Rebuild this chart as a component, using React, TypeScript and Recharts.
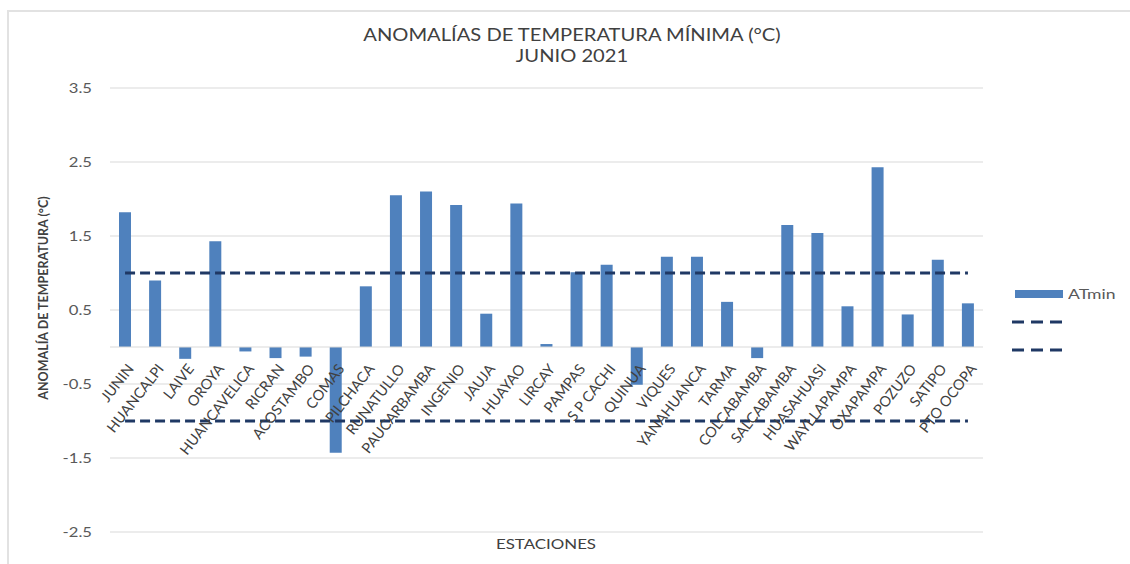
import React from "react";
import {
  ComposedChart,
  Bar,
  XAxis,
  YAxis,
  CartesianGrid,
  ReferenceLine,
  LabelList,
} from "recharts";

const estaciones = [
  "JUNIN", "HUANCALPI", "LAIVE", "OROYA", "HUANCAVELICA", "RICRAN", "ACOSTAMBO",
  "COMAS", "PILCHACA", "RUNATULLO", "PAUCARBAMBA", "INGENIO", "JAUJA", "HUAYAO",
  "LIRCAY", "PAMPAS", "S P CACHI", "QUINUA", "VIQUES", "YANAHUANCA", "TARMA",
  "COLCABAMBA", "SALCABAMBA", "HUASAHUASI", "WAYLLAPAMPA", "OXAPAMPA", "POZUZO",
  "SATIPO", "PTO OCOPA",
];

const atmin = [
  1.82, 0.9, -0.16, 1.43, -0.06, -0.15, -0.13, -1.43, 0.82, 2.05, 2.1, 1.92, 0.45,
  1.94, 0.04, 1.01, 1.11, -0.51, 1.22, 1.22, 0.61, -0.15, 1.65, 1.54, 0.55, 2.43,
  0.44, 1.18, 0.59,
];

const yTicks = [-2.5, -1.5, -0.5, 0.5, 1.5, 2.5, 3.5];
const yDomain = [-2.5, 3.5];
const umbralSuperior = 1;
const umbralInferior = -1;

const titulo1 = "ANOMALÍAS DE TEMPERATURA MÍNIMA (°C)";
const titulo2 = "JUNIO 2021";
const tituloY = "ANOMALÍA DE TEMPERATURA  (°C)";
const tituloX = "ESTACIONES";
const nombreSerie = "ATmin";

const data = estaciones.map((e, i) => ({ estacion: e, atmin: atmin[i] }));

const FONT = "Lato, 'Open Sans', sans-serif";
const AZUL = "#4F81BD";
const NAVY = "#1F3864";

const EtiquetaEstacion = (props: any) => {
  const { x, y, width, height, value, index } = props;
  const v = atmin[index];
  const top = Math.min(y, y + height);
  const bottom = Math.max(y, y + height);
  const base = v >= 0 ? bottom : top;
  const cx = x + width / 2;
  const tx = cx + 9.5;
  const ty = base + 22;
  return (
    <text
      x={tx}
      y={ty}
      transform={`rotate(-52 ${tx} ${ty})`}
      textAnchor="end"
      fontFamily={FONT}
      fontSize={14.5}
      fill="#404040"
    >
      {value}
    </text>
  );
};

const TickY = (props: any) => {
  const { x, y, payload } = props;
  return (
    <g transform={`translate(${x},${y})`}>
      <text
        transform="scale(1.28,1)"
        textAnchor="end"
        dominantBaseline="central"
        fontFamily={FONT}
        fontSize={13}
        fill="#595959"
      >
        {payload.value}
      </text>
    </g>
  );
};

const TituloEjeY = (props: any) => {
  const vb = props.viewBox || {};
  const cx = 43;
  const cy = vb.y + vb.height / 2 - 12;
  return (
    <text
      x={cx}
      y={cy}
      transform={`rotate(-90 ${cx} ${cy})`}
      textAnchor="middle"
      dominantBaseline="central"
      fontFamily={FONT}
      fontSize={12.5}
      fontWeight={700}
      fill="#404040"
    >
      {tituloY}
    </text>
  );
};

const Leyenda = () => (
  <div
    style={{
      position: "absolute",
      left: 1010,
      top: 287,
      fontFamily: FONT,
      fontSize: 13.5,
      color: "#595959",
    }}
  >
    <div style={{ display: "flex", alignItems: "center", height: 14 }}>
      <svg width={56} height={14}>
        <rect x={5} y={3} width={48} height={8} fill={AZUL} />
      </svg>
      <span
        style={{
          marginLeft: 2,
          display: "inline-block",
          transform: "scaleX(1.3)",
          transformOrigin: "left center",
        }}
      >
        {nombreSerie}
      </span>
    </div>
    <div style={{ height: 14, marginTop: 14 }}>
      <svg width={56} height={14}>
        <line x1={2} y1={7} x2={53} y2={7} stroke={NAVY} strokeWidth={3} strokeDasharray="12 7" />
      </svg>
    </div>
    <div style={{ height: 14, marginTop: 14 }}>
      <svg width={56} height={14}>
        <line x1={2} y1={7} x2={53} y2={7} stroke={NAVY} strokeWidth={3} strokeDasharray="12 7" />
      </svg>
    </div>
  </div>
);

export default function App() {
  const first = estaciones[0];
  const last = estaciones[estaciones.length - 1];
  return (
    <div
      style={{
        position: "absolute",
        left: 0,
        top: 0,
        width: 1130,
        height: 564,
        overflow: "hidden",
        background: "#fff",
      }}
    >
      <div
        style={{
          position: "absolute",
          left: 7,
          top: 10,
          width: 1140,
          height: 600,
          borderLeft: "2px solid #e2e2e2",
          borderTop: "2px solid #e2e2e2",
        }}
      />
      <div style={{ position: "absolute", left: 0, top: 0 }}>
        <ComposedChart
          width={1130}
          height={564}
          data={data}
          margin={{ top: 88, right: 147, bottom: 32, left: 30 }}
        >
          <CartesianGrid vertical={false} stroke="#d9d9d9" strokeWidth={1} />
          <XAxis dataKey="estacion" hide />
          <YAxis
            type="number"
            domain={yDomain}
            ticks={yTicks}
            width={80}
            axisLine={false}
            tickLine={false}
            tickMargin={12}
            allowDataOverflow
            tick={<TickY />}
            label={<TituloEjeY />}
          />
          <ReferenceLine y={0} stroke="#d9d9d9" strokeWidth={1} />
          <Bar dataKey="atmin" name={nombreSerie} fill={AZUL} barSize={12} isAnimationActive={false}>
            <LabelList dataKey="estacion" content={<EtiquetaEstacion />} />
          </Bar>
          <ReferenceLine
            segment={[
              { x: first, y: umbralSuperior },
              { x: last, y: umbralSuperior },
            ]}
            stroke={NAVY}
            strokeWidth={3}
            strokeDasharray="10 5"
          />
          <ReferenceLine
            segment={[
              { x: first, y: umbralInferior },
              { x: last, y: umbralInferior },
            ]}
            stroke={NAVY}
            strokeWidth={3}
            strokeDasharray="10 5"
          />
        </ComposedChart>
      </div>
      <div
        style={{
          position: "absolute",
          left: 0,
          width: 1144,
          top: 25,
          textAlign: "center",
          fontFamily: FONT,
          fontSize: 16.5,
          lineHeight: "21px",
          color: "#404040",
          transform: "scaleX(1.22)",
          transformOrigin: "572px 0",
        }}
      >
        <div>{titulo1}</div>
        <div>{titulo2}</div>
      </div>
      <div
        style={{
          position: "absolute",
          left: 446,
          width: 200,
          top: 536,
          textAlign: "center",
          fontFamily: FONT,
          fontSize: 13.5,
          color: "#404040",
          transform: "scaleX(1.25)",
          transformOrigin: "100px 0",
        }}
      >
        {tituloX}
      </div>
      <Leyenda />
    </div>
  );
}
